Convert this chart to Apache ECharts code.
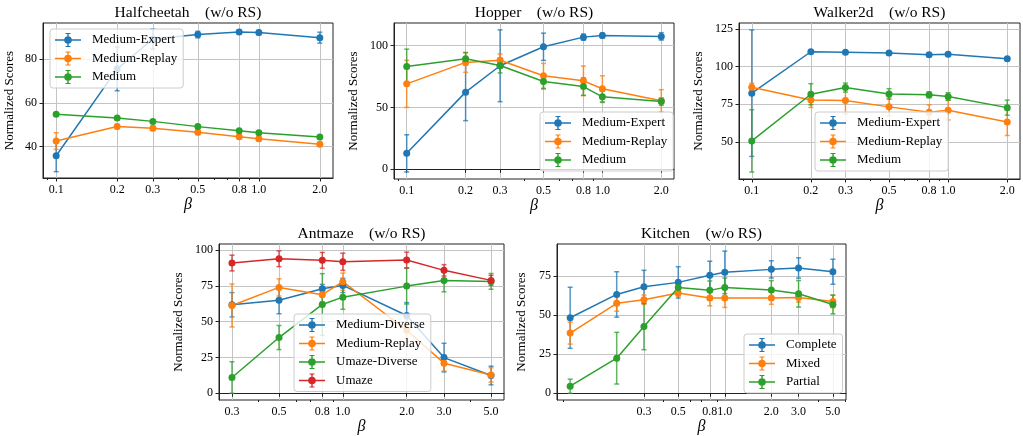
<!DOCTYPE html>
<html>
<head>
<meta charset="utf-8">
<script src="https://cdn.jsdelivr.net/npm/echarts@6/dist/echarts.min.js"></script>
<style>
html, body { margin: 0; padding: 0; background: #fff; }
#chart { width: 1023px; height: 436px; }
</style>
</head>
<body>
<div id="chart"></div>
<script>
// beta values (x) and tick labels
const betaTop = [0.1, 0.2, 0.3, 0.5, 0.8, 1.0, 2.0];
const betaAnt = [0.3, 0.5, 0.8, 1.0, 2.0, 3.0, 5.0];
const betaKitchen = [0.1, 0.2, 0.3, 0.5, 0.8, 1.0, 2.0, 3.0, 5.0];
const ticksTop = [0.1, 0.2, 0.3, 0.5, 0.8, 1.0, 2.0];
const ticksAnt = [0.3, 0.5, 0.8, 1.0, 2.0, 3.0, 5.0];
const ticksKitchen = [0.3, 0.5, 0.8, 1.0, 2.0, 3.0, 5.0];
const minorTop = [0.09, 0.4, 0.6, 0.7, 0.9];
const minorAnt = [0.4, 0.6, 0.7, 0.9, 4.0];
const minorKitchen = [0.09, 0.4, 0.6, 0.7, 0.9, 4.0, 6.0];

// Halfcheetah
const halfME = [35.9, 75.6, 89.3, 91.3, 92.5, 92.2, 89.9];
const halfMEErr = [7.3, 10, 4.6, 1.5, 1, 1, 2.5];
const halfMR = [42.6, 49.3, 48.5, 46.6, 44.6, 43.7, 41.1];
const halfMRErr = [3.8, 1, 1, 1, 1, 1, 0.8];
const halfM = [54.9, 53.2, 51.6, 49.2, 47.3, 46.4, 44.4];
const halfMErr = [0.6, 0.5, 0.5, 0.5, 0.5, 0.5, 0.5];

// Hopper
const hopME = [12.9, 62.3, 83.6, 98.9, 106.7, 108, 107.3];
const hopMEErr = [15, 23, 29, 11, 2.5, 2, 3];
const hopMR = [69, 86.3, 88.1, 75.5, 71.4, 65, 55.3];
const hopMRErr = [19, 8, 5, 10, 12, 10.5, 9];
const hopM = [83, 89.2, 83.8, 70.9, 66.8, 58.5, 54.7];
const hopMErr = [14, 5, 6, 6, 7, 4.5, 3];

// Walker2d
const walkME = [82.4, 109.9, 109.6, 109, 107.9, 108.3, 105.2];
const walkMEErr = [42, 1, 1, 1, 1, 1, 1];
const walkMR = [86.4, 77.9, 77.5, 73.3, 69.7, 71.1, 63.3];
const walkMRErr = [2.5, 5, 9, 6, 5, 6.5, 9];
const walkM = [50.7, 81.7, 86.1, 81.9, 81.3, 80.2, 72.8];
const walkMErr = [20.7, 7, 3, 3.5, 2, 2.5, 5];

// Antmaze
const antMD = [61.8, 65, 73, 75.3, 54.3, 24.9, 12.4];
const antMDErr = [8.5, 9.5, 3, 5, 9, 10, 6.5];
const antMR = [61.3, 73.9, 68.8, 77.9, 44, 21, 12.8];
const antMRErr = [15, 6, 5, 6, 8, 5.5, 5];
const antUD = [11, 38.9, 62, 67.1, 74.8, 78.8, 78.1];
const antUDErr = [11, 8.4, 21.5, 8.5, 12.5, 8, 5.5];
const antU = [90.9, 93.9, 92.8, 91.8, 93, 85.8, 78.8];
const antUErr = [5.5, 5.5, 5.5, 6, 5.5, 4, 3.5];

// Kitchen
const kitC = [48.2, 63.1, 68, 70.8, 75.3, 77.2, 79.1, 80, 77.6];
const kitCErr = [19.5, 14.5, 10.5, 10, 9, 13.6, 5.5, 6.5, 8];
const kitMx = [38.4, 57.4, 59.7, 64, 60.8, 60.8, 60.8, 61.2, 58.6];
const kitMxErr = [7, 5, 3, 2, 5, 6, 4, 3, 4];
const kitP = [4.5, 22.4, 42.6, 67.6, 65.7, 67.6, 65.9, 63.5, 56.7];
const kitPErr = [4.5, 16.5, 14.8, 3, 6, 6, 6, 8.5, 6];

const BLUE = '#1f77b4', ORANGE = '#ff7f0e', GREEN = '#2ca02c', RED = '#d62728';
const FONT = 'Liberation Serif';
// legend icon: line + marker + error bar with caps (all subpaths clockwise so they fill)
const ICON = 'path://M0,7.3H26V8.7H0Z M12.3,1H13.7V15H12.3Z M10.5,1H15.5V2H10.5Z M10.5,14H15.5V15H10.5Z M9.2,8A3.8,3.8,0,1,1,16.8,8A3.8,3.8,0,1,1,9.2,8Z';

const panels = [
  { title: 'Halfcheetah    (w/o RS)', grid: [43, 23, 290, 155], x: betaTop, xTicks: ticksTop, xMinor: minorTop,
    xMin: 0.0861, xMax: 2.323, yMin: 25.7, yMax: 96.6, yTicks: [40, 60, 80], nameGap: 21,
    legend: [50, 29],
    series: [['Medium-Expert', BLUE, halfME, halfMEErr], ['Medium-Replay', ORANGE, halfMR, halfMRErr], ['Medium', GREEN, halfM, halfMErr]] },
  { title: 'Hopper    (w/o RS)', grid: [394, 23, 280, 156], x: betaTop, xTicks: ticksTop, xMinor: minorTop,
    xMin: 0.0861, xMax: 2.323, yMin: -7.8, yMax: 118.1, yTicks: [0, 50, 100], nameGap: 28,
    legend: [540, 112],
    series: [['Medium-Expert', BLUE, hopME, hopMEErr], ['Medium-Replay', ORANGE, hopMR, hopMRErr], ['Medium', GREEN, hopM, hopMErr]] },
  { title: 'Walker2d    (w/o RS)', grid: [739, 23, 281, 156], x: betaTop, xTicks: ticksTop, xMinor: minorTop,
    xMin: 0.0861, xMax: 2.323, yMin: 25.4, yMax: 129, yTicks: [50, 75, 100, 125], nameGap: 27.5,
    legend: [815, 112],
    series: [['Medium-Expert', BLUE, walkME, walkMEErr], ['Medium-Replay', ORANGE, walkMR, walkMRErr], ['Medium', GREEN, walkM, walkMErr]] },
  { title: 'Antmaze    (w/o RS)', grid: [219, 244, 285, 156], x: betaAnt, xTicks: ticksAnt, xMinor: minorAnt,
    xMin: 0.2606, xMax: 5.755, yMin: -4.7, yMax: 104.2, yTicks: [0, 25, 50, 75, 100], nameGap: 27.5,
    legend: [294, 314],
    series: [['Medium-Diverse', BLUE, antMD, antMDErr], ['Medium-Replay', ORANGE, antMR, antMRErr], ['Umaze-Diverse', GREEN, antUD, antUDErr], ['Umaze', RED, antU, antUErr]] },
  { title: 'Kitchen    (w/o RS)', grid: [557, 244, 289, 156], x: betaKitchen, xTicks: ticksKitchen, xMinor: minorKitchen,
    xMin: 0.0822, xMax: 6.08, yMin: -4.3, yMax: 95.3, yTicks: [0, 25, 50, 75], nameGap: 22.5,
    legend: [744, 334],
    series: [['Complete', BLUE, kitC, kitCErr], ['Mixed', ORANGE, kitMx, kitMxErr], ['Partial', GREEN, kitP, kitPErr]] }
];

function renderErr(params, api) {
  const x = api.value(0);
  const lo = api.coord([x, api.value(1)]);
  const hi = api.coord([x, api.value(2)]);
  const cap = 2.5;
  const style = { stroke: api.visual('color'), lineWidth: 1.5, opacity: 0.75 };
  return {
    type: 'group',
    children: [
      { type: 'line', shape: { x1: lo[0], y1: lo[1], x2: hi[0], y2: hi[1] }, style: style },
      { type: 'line', shape: { x1: lo[0] - cap, y1: lo[1], x2: lo[0] + cap, y2: lo[1] }, style: style },
      { type: 'line', shape: { x1: hi[0] - cap, y1: hi[1], x2: hi[0] + cap, y2: hi[1] }, style: style }
    ]
  };
}

const grid = [], xAxis = [], yAxis = [], series = [], legend = [], title = [];
panels.forEach(function (p, k) {
  grid.push({ left: p.grid[0], top: p.grid[1], width: p.grid[2], height: p.grid[3],
    show: true, borderColor: '#222', borderWidth: 1, backgroundColor: 'transparent' });
  title.push({ text: p.title, left: p.grid[0] + p.grid[2] / 2, textAlign: 'center', top: p.grid[1] - 18, padding: 0,
    textStyle: { fontFamily: FONT, fontSize: 15.5, fontWeight: 'normal', color: '#000' } });
  xAxis.push({ type: 'log', gridIndex: k, min: p.xMin, max: p.xMax,
    name: 'β', nameLocation: 'middle', nameGap: 19,
    nameTextStyle: { fontFamily: FONT, fontStyle: 'italic', fontSize: 16, color: '#000' },
    axisLine: { show: true, lineStyle: { color: '#222', width: 1 } },
    axisTick: { show: true, customValues: p.xTicks, length: 3.5, lineStyle: { color: '#222' } },
    axisLabel: { customValues: p.xTicks, margin: 6, fontFamily: FONT, fontSize: 12, color: '#000',
      formatter: function (v) { return Number(v).toFixed(1); } },
    splitLine: { show: true, lineStyle: { color: '#c4c4c4', width: 1 } } });
  xAxis.push({ type: 'log', gridIndex: k, min: p.xMin, max: p.xMax, position: 'bottom',
    axisLine: { show: false },
    axisTick: { show: true, customValues: p.xMinor, length: 2, lineStyle: { color: '#222' } },
    axisLabel: { show: false }, splitLine: { show: false } });
  yAxis.push({ type: 'value', gridIndex: k, min: p.yMin, max: p.yMax,
    name: 'Normalized Scores', nameLocation: 'middle', nameGap: p.nameGap + 6,
    nameTextStyle: { fontFamily: FONT, fontSize: 13, color: '#000' },
    axisLine: { show: true, lineStyle: { color: '#222', width: 1 } },
    axisTick: { show: true, customValues: p.yTicks, length: 3.5, lineStyle: { color: '#222' } },
    axisLabel: { customValues: p.yTicks, margin: 6, fontFamily: FONT, fontSize: 12, color: '#000' },
    splitLine: { show: true, lineStyle: { color: '#c4c4c4', width: 1 } } });
  legend.push({ left: p.legend[0], top: p.legend[1], orient: 'vertical', itemWidth: 26, itemHeight: 14,
    itemGap: 4.5, padding: [4, 6, 4, 5], backgroundColor: 'rgba(255,255,255,0.8)',
    borderColor: '#cccccc', borderWidth: 1, borderRadius: 3, selectedMode: false,
    textStyle: { fontFamily: FONT, fontSize: 13, color: '#000', padding: [0, 0, 0, 6] },
    data: p.series.map(function (s) { return { name: s[0], icon: ICON, itemStyle: { color: s[1], borderWidth: 0 } }; }) });
  p.series.forEach(function (s) {
    const vals = s[2], errs = s[3];
    series.push({ type: 'custom', name: s[0], xAxisIndex: 2 * k, yAxisIndex: k,
      itemStyle: { color: s[1] }, renderItem: renderErr, encode: { x: 0, y: [1, 2] }, silent: true,
      data: p.x.map(function (b, i) { return [b, vals[i] - errs[i], vals[i] + errs[i]]; }) });
    series.push({ type: 'line', name: s[0], xAxisIndex: 2 * k, yAxisIndex: k,
      symbol: 'circle', symbolSize: 7, color: s[1], itemStyle: { color: s[1] },
      lineStyle: { color: s[1], width: 1.5 }, emphasis: { disabled: true }, silent: true,
      data: p.x.map(function (b, i) { return [b, vals[i]]; }) });
  });
});

const chart = echarts.init(document.getElementById('chart'), null, { renderer: 'canvas' });
chart.setOption({
  animation: false,
  backgroundColor: '#fff',
  title: title, grid: grid, xAxis: xAxis, yAxis: yAxis, legend: legend, series: series
});
</script>
</body>
</html>
